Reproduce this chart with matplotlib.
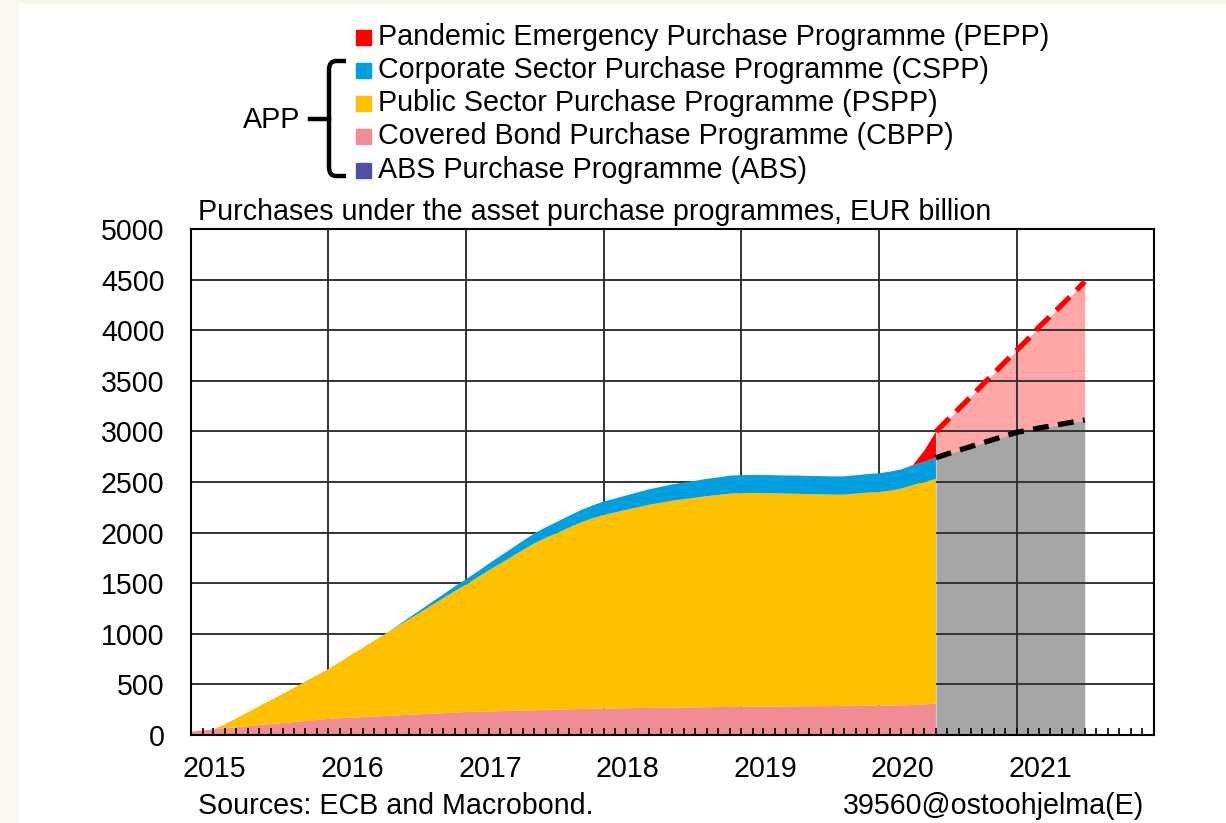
import matplotlib
matplotlib.use('Agg')
import matplotlib.pyplot as plt
import matplotlib.dates as mdates
import pandas as pd
from matplotlib.patches import Rectangle
from matplotlib.path import Path
from matplotlib.patches import PathPatch

plt.rcParams['font.family'] = ['Liberation Sans', 'DejaVu Sans']

# monthly holdings (start of month), EUR billion
months = pd.date_range('2015-01-01', '2020-06-01', freq='MS')

abs_pp = [1, 1, 2, 2, 3, 3, 4, 4, 5, 5, 6, 6,
          6, 7, 7, 7, 8, 8, 8, 8, 9, 9, 9, 9,
          10, 10, 10, 10, 10, 10, 10, 10, 10, 10, 10, 10,
          10, 10, 10, 10, 10, 10, 10, 10, 10, 10, 10, 10,
          10, 10, 10, 10, 10, 10, 10, 10, 10, 10, 10, 10,
          10, 10, 10, 10, 10, 10]
cbpp = [32, 43, 53, 64, 74, 85, 94, 104, 113, 123, 132, 143,
        154, 159, 165, 170, 175, 180, 186, 191, 196, 202, 207, 213,
        217, 220, 223, 226, 229, 232, 235, 238, 241, 244, 247, 249,
        251, 253, 255, 257, 258, 260, 261, 263, 264, 265, 267, 268,
        269, 270, 271, 272, 273, 274, 275, 275, 276, 277, 278, 279,
        280, 281, 283, 287, 293, 300]
pspp = [0, 0, 0, 39, 88, 137, 187, 237, 287, 337, 392, 441,
        492, 556, 620, 685, 749, 814, 878, 943, 1007, 1071, 1136, 1200,
        1263, 1330, 1392, 1459, 1521, 1588, 1650, 1702, 1749, 1796, 1843, 1881,
        1914, 1937, 1960, 1983, 2007, 2025, 2044, 2057, 2071, 2085, 2095, 2107,
        2111, 2112, 2109, 2106, 2102, 2099, 2095, 2093, 2089, 2088, 2097, 2106,
        2110, 2124, 2142, 2173, 2197, 2220]
cspp = [0, 0, 0, 0, 0, 0, 0, 0, 0, 0, 0, 0,
        0, 0, 0, 0, 0, 0, 5, 15, 22, 30, 38, 45,
        51, 58, 66, 74, 82, 90, 98, 104, 110, 116, 122, 127,
        132, 137, 142, 147, 152, 157, 161, 164, 167, 171, 174, 177,
        178, 178, 179, 179, 179, 180, 180, 180, 180, 181, 181, 183,
        186, 188, 190, 193, 200, 210]
pepp = [0] * 63 + [5, 110, 257]

# projections
proj_months = pd.date_range('2020-06-01', '2021-07-01', freq='MS')
app_proj = [2740, 2777, 2814, 2850, 2885, 2920, 2955, 2990, 3012, 3033, 3053, 3073, 3093, 3113]
total_proj = [2997, 3110, 3225, 3340, 3455, 3570, 3685, 3800, 3915, 4030, 4140, 4250, 4365, 4480]

labels = ['Pandemic Emergency Purchase Programme (PEPP)',
          'Corporate Sector Purchase Programme (CSPP)',
          'Public Sector Purchase Programme (PSPP)',
          'Covered Bond Purchase Programme (CBPP)',
          'ABS Purchase Programme (ABS)']
colors = ['#FF0000', '#009FDF', '#FFC000', '#F08C94', '#4F51A1']
years = list(range(2015, 2022))

FS = 20.6
W, H = 1226, 823
fig = plt.figure(figsize=(W / 100, H / 100), dpi=100)
fig.patch.set_facecolor('white')
fig.patches.append(Rectangle((0, 0), 17 / W, 1, transform=fig.transFigure,
                             color='#FAF6F0', zorder=0))
fig.patches.append(Rectangle((0, 1 - 3 / H), 1, 3 / H, transform=fig.transFigure,
                             color='#FAF6F0', zorder=0))

ax = fig.add_axes([191 / W, 1 - 735 / H, (1154 - 191) / W, (735 - 229) / H])
ax.set_axisbelow(False)

# projection areas (under the grid)
ax.fill_between(proj_months, 0, app_proj, color='#A6A6A6', lw=0, zorder=0.5)
ax.fill_between(proj_months, app_proj, total_proj, color='#FFA7A7', lw=0, zorder=0.5)

# grid
for v in range(0, 5001, 500):
    ax.axhline(v, color='#333333', lw=1.4, zorder=1)
for y in years[1:]:
    ax.axvline(pd.Timestamp(f'{y}-01-01'), color='#333333', lw=1.4, zorder=1)

# stacked history, ABS at the bottom
series = [abs_pp, cbpp, pspp, cspp, pepp]
stack_cols = [colors[4], colors[3], colors[2], colors[1], colors[0]]
ax.stackplot(months, *series, colors=stack_cols, lw=0, zorder=2)

ax.plot(proj_months, total_proj, color='#FF0000', lw=3.8, ls=(0, (3.6, 1.8)), zorder=3)
ax.plot(proj_months, app_proj, color='black', lw=3.8, ls=(0, (3.0, 1.8)), zorder=3)

ax.set_xlim(pd.Timestamp('2015-01-01'), pd.Timestamp('2022-01-01'))
ax.set_ylim(0, 5000)
ax.set_yticks(range(0, 5001, 500))
ax.tick_params(axis='y', length=0, pad=19, labelsize=FS)
ax.xaxis.set_major_locator(mdates.YearLocator())
ax.xaxis.set_minor_locator(mdates.MonthLocator())
ax.tick_params(axis='x', which='both', direction='in', length=5, width=1.2,
               labelbottom=False)
for s in ax.spines.values():
    s.set_linewidth(1.5)
    s.set_color('black')

for y in years:
    ax.text(pd.Timestamp(f'{y}-03-05'), -0.067, str(y), transform=ax.get_xaxis_transform(),
            ha='center', va='center', fontsize=FS)

fig.text(198 / W, 1 - 212 / H, 'Purchases under the asset purchase programmes, EUR billion',
         fontsize=FS, va='center', ha='left')
fig.text(198 / W, 1 - 806 / H, 'Sources: ECB and Macrobond.', fontsize=FS, va='center')
fig.text(1144 / W, 1 - 806 / H, '39560@ostoohjelma(E)', fontsize=FS, va='center', ha='right')

# legend
row_y = [37, 70, 103, 136, 170]
for lab, col, yy in zip(labels, colors, row_y):
    fig.patches.append(Rectangle((356 / W, 1 - (yy + 7.5) / H), 15 / W, 15 / H,
                                 transform=fig.transFigure, color=col))
    fig.text(378 / W, 1 - yy / H, lab, fontsize=FS, va='center', ha='left')

# brace for APP
def fp(x, y):
    return (x / W, 1 - y / H)

verts = [fp(346, 61), fp(336, 61), fp(329, 61), fp(329, 70),
         fp(329, 167), fp(329, 176), fp(336, 176), fp(346, 176)]
codes = [Path.MOVETO, Path.LINETO, Path.CURVE3, Path.CURVE3,
         Path.LINETO, Path.CURVE3, Path.CURVE3, Path.LINETO]
fig.patches.append(PathPatch(Path(verts, codes), transform=fig.transFigure,
                             fill=False, lw=3.2, color='black', capstyle='butt'))
fig.lines.append(plt.Line2D([310 / W, 329 / W], [1 - 119 / H, 1 - 119 / H],
                            transform=fig.transFigure, color='black', lw=3.2))
fig.text(272 / W, 1 - 120 / H, 'APP', fontsize=FS, va='center', ha='center')

fig.savefig('out.png', dpi=100)
